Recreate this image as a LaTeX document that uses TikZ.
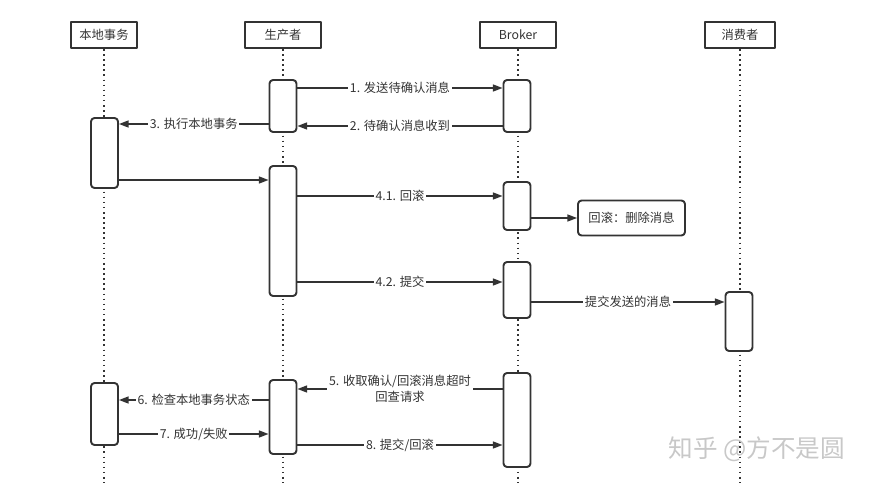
\documentclass[tikz,border=0pt]{standalone}
\usepackage{fontspec}
\setmainfont{Noto Sans CJK SC}
\usetikzlibrary{arrows.meta}
\definecolor{ink}{HTML}{333333}
\definecolor{wmark}{HTML}{C8C8C8}
\tikzset{
  every picture/.style={font=\fontsize{7}{9}\selectfont, line join=round, >={Triangle[length=5.5pt,width=4pt]}},
  head/.style={draw=ink, line width=1.1pt, minimum height=0.52cm, inner sep=0pt, text=ink},
  act/.style={draw=ink, fill=white, line width=1.1pt, rounded corners=2pt, minimum width=0.54cm, inner sep=0pt},
  life/.style={ink, dotted, line width=0.9pt},
  msg/.style={->, ink, line width=0.8pt},
  lbl/.style={fill=white, inner sep=1pt, text=ink},
}

\begin{document}
\begin{tikzpicture}[x=0.02cm,y=-0.02cm]
\useasboundingbox (0,0) rectangle (873,483);
% lifelines
\node[head,minimum width=1.32cm] (local) at (104,35) {本地事务};
\node[head,minimum width=1.52cm] (prod) at (283,35) {生产者};
\node[head,minimum width=1.52cm] (broker) at (518,35) {Broker};
\node[head,minimum width=1.40cm] (cons) at (740,35) {消费者};
\draw[life] (local.south) -- (local.south |- 0,483);
\draw[life] (prod.south) -- (prod.south |- 0,483);
\draw[life] (broker.south) -- (broker.south |- 0,483);
\draw[life] (cons.south) -- (cons.south |- 0,483);
% activations
\node[act,minimum height=1.04cm] (p1) at (283,106) {};
\node[act,minimum height=1.04cm] (b1) at (517,106) {};
\node[act,minimum height=1.40cm] (l1) at (104.5,153) {};
\node[act,minimum height=2.60cm] (p2) at (283,231) {};
\node[act,minimum height=0.96cm] (b2) at (517,206) {};
\node[act,minimum width=2.14cm,minimum height=0.70cm,text=ink] (del) at (631.5,218) {回滚：删除消息};
\node[act,minimum height=1.12cm] (b3) at (517,290) {};
\node[act,minimum height=1.18cm] (c1) at (739,321.5) {};
\node[act,minimum height=1.24cm] (l2) at (104.5,414) {};
\node[act,minimum height=1.48cm] (p3) at (283,417) {};
\node[act,minimum height=1.88cm] (b4) at (517,420) {};
% messages
\draw[msg] (p1.east |- 0,88) -- node[lbl]{1. 发送待确认消息} (b1.west |- 0,88);
\draw[msg] (b1.west |- 0,126) -- node[lbl]{2. 待确认消息收到} (p1.east |- 0,126);
\draw[msg] (p1.west |- 0,124) -- node[lbl]{3. 执行本地事务} (l1.east |- 0,124);
\draw[msg] (l1.east |- 0,180) -- (p2.west |- 0,180);
\draw[msg] (p2.east |- 0,196) -- node[lbl]{4.1. 回滚} (b2.west |- 0,196);
\draw[msg] (b2.east |- del.west) -- (del.west);
\draw[msg] (p2.east |- 0,282) -- node[lbl]{4.2. 提交} (b3.west |- 0,282);
\draw[msg] (b3.east |- 0,302) -- node[lbl]{提交发送的消息} (c1.west |- 0,302);
\draw[msg] (b4.west |- 0,389) -- node[lbl,align=center]{5. 收取确认/回滚消息超时\\回查请求} (p3.east |- 0,389);
\draw[msg] (p3.west |- 0,400) -- node[lbl]{6. 检查本地事务状态} (l2.east |- 0,400);
\draw[msg] (l2.east |- 0,434) -- node[lbl]{7. 成功/失败} (p3.west |- 0,434);
\draw[msg] (p3.east |- 0,445) -- node[lbl]{8. 提交/回滚} (b4.west |- 0,445);
% watermark
\node[text=wmark,font=\fontsize{14}{16}\selectfont] (wm) at (757,449) {知乎\ @方不是圆};
\end{tikzpicture}
\end{document}
